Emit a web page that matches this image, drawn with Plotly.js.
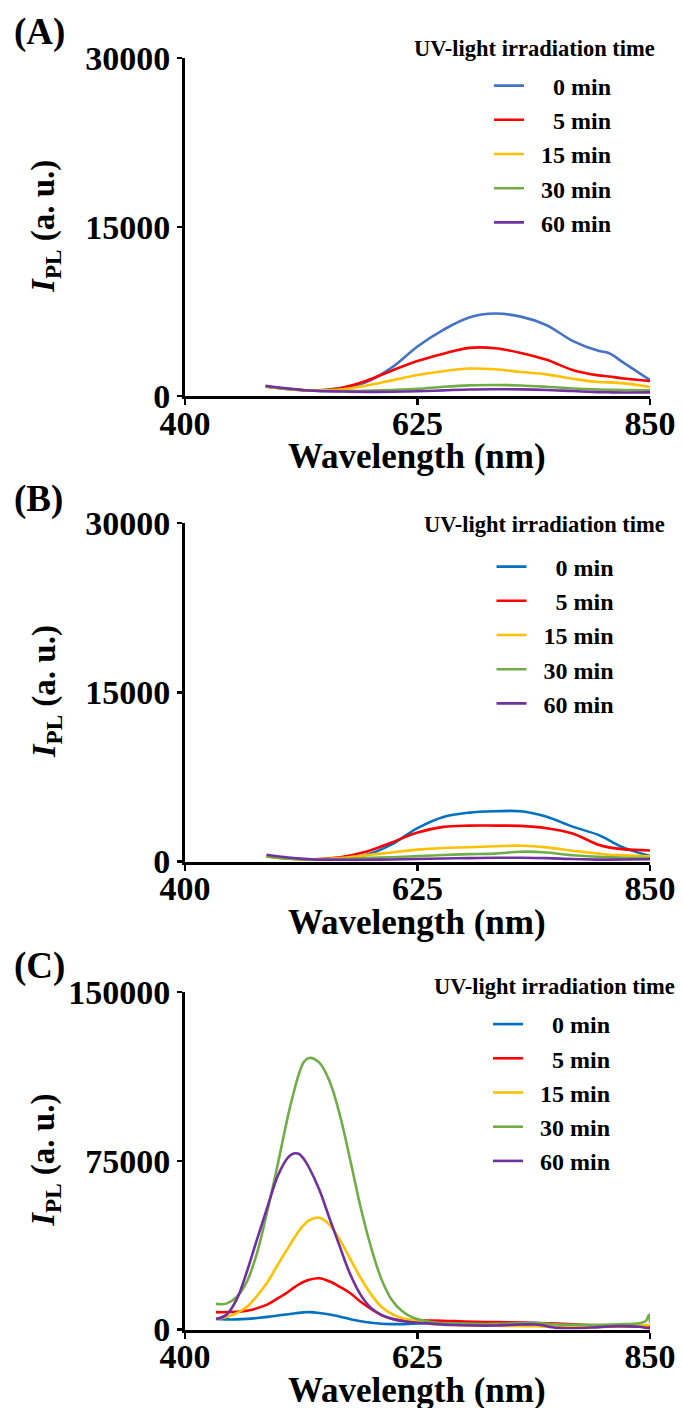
<!DOCTYPE html>
<html>
<head>
<meta charset="utf-8">
<script src="https://cdn.plot.ly/plotly-3.0.1.min.js"></script>
<style>html,body{margin:0;padding:0;background:#fff;}#chart{width:683px;height:1408px;}</style>
</head>
<body>
<div id="chart"></div>
<script>
// ---------- DATA ----------
const seriesNames = ["0 min", "5 min", "15 min", "30 min", "60 min"];
const legendLabels = ["\u00a0\u00a0\u00a0\u00a00 min", "\u00a0\u00a0\u00a0\u00a05 min", "\u00a0\u00a015 min", "\u00a0\u00a030 min", "\u00a0\u00a060 min"];
const colorsA = ["#4472C4", "#FF0000", "#FFC000", "#70AD47", "#7030A0"];
const colorsBC = ["#0070C0", "#FF0000", "#FFC000", "#70AD47", "#7030A0"];

// Panel A (wavelength, nm)
const wlA = [478,500,525,550,575,600,625,650,675,700,725,750,775,800,810,825,850];
const a0  = [830,600,470,680,1200,2500,4380,5860,6960,7310,7030,6270,4880,3990,3800,2900,1400];
const a5  = [830,600,460,674,1318,2232,3089,3733,4256,4230,3807,3196,2296,1813,1720,1536,1310];
const a15 = [830,600,460,560,897,1370,1840,2185,2420,2360,2120,1900,1520,1220,1195,1100,780];
const a30 = [830,600,450,420,450,520,620,800,930,960,920,800,650,560,540,520,480];
const a60 = [900,650,450,380,350,360,400,480,560,580,570,520,420,330,310,290,300];

// Panel B
const wlB = [479,500,525,550,575,600,625,650,675,700,725,750,775,800,810,825,850];
const b0  = [450,270,200,260,570,1520,2960,3950,4330,4450,4450,3960,3090,2360,1900,1210,480];
const b5  = [510,280,200,380,860,1690,2570,3070,3180,3180,3160,2950,2480,1480,1250,1075,980];
const b15 = [450,250,180,300,550,800,1050,1200,1260,1350,1400,1250,950,700,600,550,450];
const b30 = [450,250,180,220,300,380,480,580,650,700,870,800,550,420,380,330,300];
const b60 = [600,350,180,150,150,180,220,270,300,330,330,300,220,170,170,180,200];

// Panel C
const wlC = [430,440,450,460,470,480,490,500,505,510,515,520,530,540,550,560,570,580,590,600,610,620,640,660,680,700,720,740,760,780,800,820,840,846,849,850];
const c0  = [4700,4500,4500,4700,5100,5600,6200,6800,7100,7400,7600,7700,7350,6700,5700,4550,3650,3000,2550,2400,2400,2600,2950,2960,2960,2960,2960,2900,2300,1950,1770,1500,1200,1100,1060,1050];
const c5  = [7700,7700,7900,8300,9500,11200,13900,16800,18500,20000,21200,22100,22750,21300,18900,16100,12300,9100,6400,4800,4000,3950,3950,3700,3450,3300,3100,2900,2600,2200,1770,1500,1200,1100,1060,1050];
const c15 = [4700,5600,7300,10100,15100,21200,29000,36500,40200,43700,46500,48500,49700,46500,39700,31300,22900,15700,10100,6900,5100,4200,2500,2000,1750,1650,1550,1420,1150,1060,1060,1300,1700,1900,2000,2000];
const c30 = [11400,11500,14450,21400,34500,53300,73900,95700,105000,113300,118900,120700,118600,110200,95100,75100,54200,36600,22500,13200,8200,5400,3250,2700,2500,2500,2700,2900,2300,2100,2100,2300,2800,3800,6500,3000];
const c60 = [4700,6500,13400,25900,40500,54800,68500,76600,78200,78100,75800,72000,62100,49200,36600,24400,15400,9600,6500,4800,3800,3200,2500,2000,1770,1770,2150,2200,700,600,1060,1500,1200,700,350,300];

// Axis ticks
const xTickVals = [400, 625, 850];
const xTickText = ["400", "625", "850"];
const yTickValsAB = [0, 15000, 30000];
const yTickTextAB = ["0", "15000", "30000"];
const yTickValsC = [0, 75000, 150000];
const yTickTextC = ["0", "75000", "150000"];
const panelLabels = ["(A)", "(B)", "(C)"];
const xTitle = "Wavelength (nm)";
const yTitle = "<i>I</i><sub>PL</sub> (a. u.)";
const legendTitle = "UV-light irradiation time";

// ---------- BUILD ----------
const W = 683, H = 1408;
const FONT = "Liberation Serif, Times New Roman, serif";
const px = v => v / W;
const py = v => 1 - v / H;

const panels = [
  {x: wlA, ys: [a0,a5,a15,a30,a60], colors: colorsA, xa: "x", ya: "y", legend: "legend"},
  {x: wlB, ys: [b0,b5,b15,b30,b60], colors: colorsBC, xa: "x2", ya: "y2", legend: "legend2"},
  {x: wlC, ys: [c0,c5,c15,c30,c60], colors: colorsBC, xa: "x3", ya: "y3", legend: "legend3"}
];

const traces = [];
panels.forEach(p => {
  p.ys.forEach((y, i) => {
    traces.push({
      type: "scatter", mode: "lines",
      x: p.x, y: y,
      name: legendLabels[i],
      legend: p.legend,
      xaxis: p.xa, yaxis: p.ya,
      line: {color: p.colors[i], width: 2.6, shape: "spline", smoothing: 1},
      hoverinfo: "skip"
    });
  });
});

// geometry (pixels)
const xDom = [px(185), px(650)];
const geo = [
  {top: 58, bot: 395.8},
  {top: 523, bot: 861.5},
  {top: 992, bot: 1329.5}
];

function xAxis(anchor) {
  return {
    domain: xDom, anchor: anchor, range: [400, 850],
    tickvals: xTickVals, ticktext: xTickText,
    showline: true, linewidth: 3, linecolor: "#000",
    ticks: "outside", ticklen: 6, tickwidth: 2.5, tickcolor: "#000",
    ticklabelstandoff: -11,
    showgrid: false, zeroline: false,
    tickfont: {family: FONT, size: 34, color: "#000", weight: "bold"}
  };
}
function yAxis(anchor, g, range, tv, tt) {
  return {
    domain: [py(g.bot), py(g.top)], anchor: anchor, range: range,
    tickvals: tv, ticktext: tt,
    showline: true, linewidth: 3, linecolor: "#000",
    ticks: "outside", ticklen: 5, tickwidth: 2.5, tickcolor: "#000",
    showgrid: false, zeroline: false,
    tickfont: {family: FONT, size: 34, color: "#000", weight: "bold"}
  };
}

function legendAt(xPx, yPx) {
  return {
    x: px(xPx), y: py(yPx), xanchor: "left", yanchor: "top",
    bgcolor: "rgba(0,0,0,0)", borderwidth: 0,
    font: {family: FONT, size: 24, color: "#000", weight: "bold"},
    itemwidth: 30, tracegroupgap: 0
  };
}

const annotations = [];
const labelY = [31.7, 499, 966];
const legTitleX = [411.7, 422, 432];
const legTitleY = [49, 525, 986.7];
geo.forEach((g, i) => {
  annotations.push({
    xref: "paper", yref: "paper", x: px(12), y: py(labelY[i]),
    xanchor: "left", yanchor: "middle", showarrow: false,
    text: panelLabels[i],
    font: {family: FONT, size: 37, color: "#000", weight: "bold"}
  });
  annotations.push({
    xref: "paper", yref: "paper", x: px(46), y: py((g.top + g.bot) / 2),
    xanchor: "center", yanchor: "middle", showarrow: false, textangle: -90,
    text: yTitle,
    font: {family: FONT, size: 33, color: "#000", weight: "bold"}
  });
  annotations.push({
    xref: "paper", yref: "paper", x: px(417), y: py(g.bot + 61),
    xanchor: "center", yanchor: "middle", showarrow: false,
    text: xTitle,
    font: {family: FONT, size: 35, color: "#000", weight: "bold"}
  });
  annotations.push({
    xref: "paper", yref: "paper", x: px(legTitleX[i]), y: py(legTitleY[i]),
    xanchor: "left", yanchor: "middle", showarrow: false,
    text: legendTitle,
    font: {family: FONT, size: 22.5, color: "#000", weight: "bold"}
  });
});

const layout = {
  width: W, height: H, autosize: false,
  margin: {l: 0, r: 0, t: 0, b: 0, pad: 0},
  paper_bgcolor: "#fff", plot_bgcolor: "#fff",
  showlegend: true,
  xaxis: xAxis("y"), yaxis: yAxis("x", geo[0], [0, 30000], yTickValsAB, yTickTextAB),
  xaxis2: xAxis("y2"), yaxis2: yAxis("x2", geo[1], [0, 30000], yTickValsAB, yTickTextAB),
  xaxis3: xAxis("y3"), yaxis3: yAxis("x3", geo[2], [0, 150000], yTickValsC, yTickTextC),
  legend: legendAt(489, 63.5),
  legend2: legendAt(491.5, 544.5),
  legend3: legendAt(488, 1002),
  annotations: annotations
};

Plotly.newPlot("chart", traces, layout, {staticPlot: true, displayModeBar: false});
</script>
</body>
</html>
